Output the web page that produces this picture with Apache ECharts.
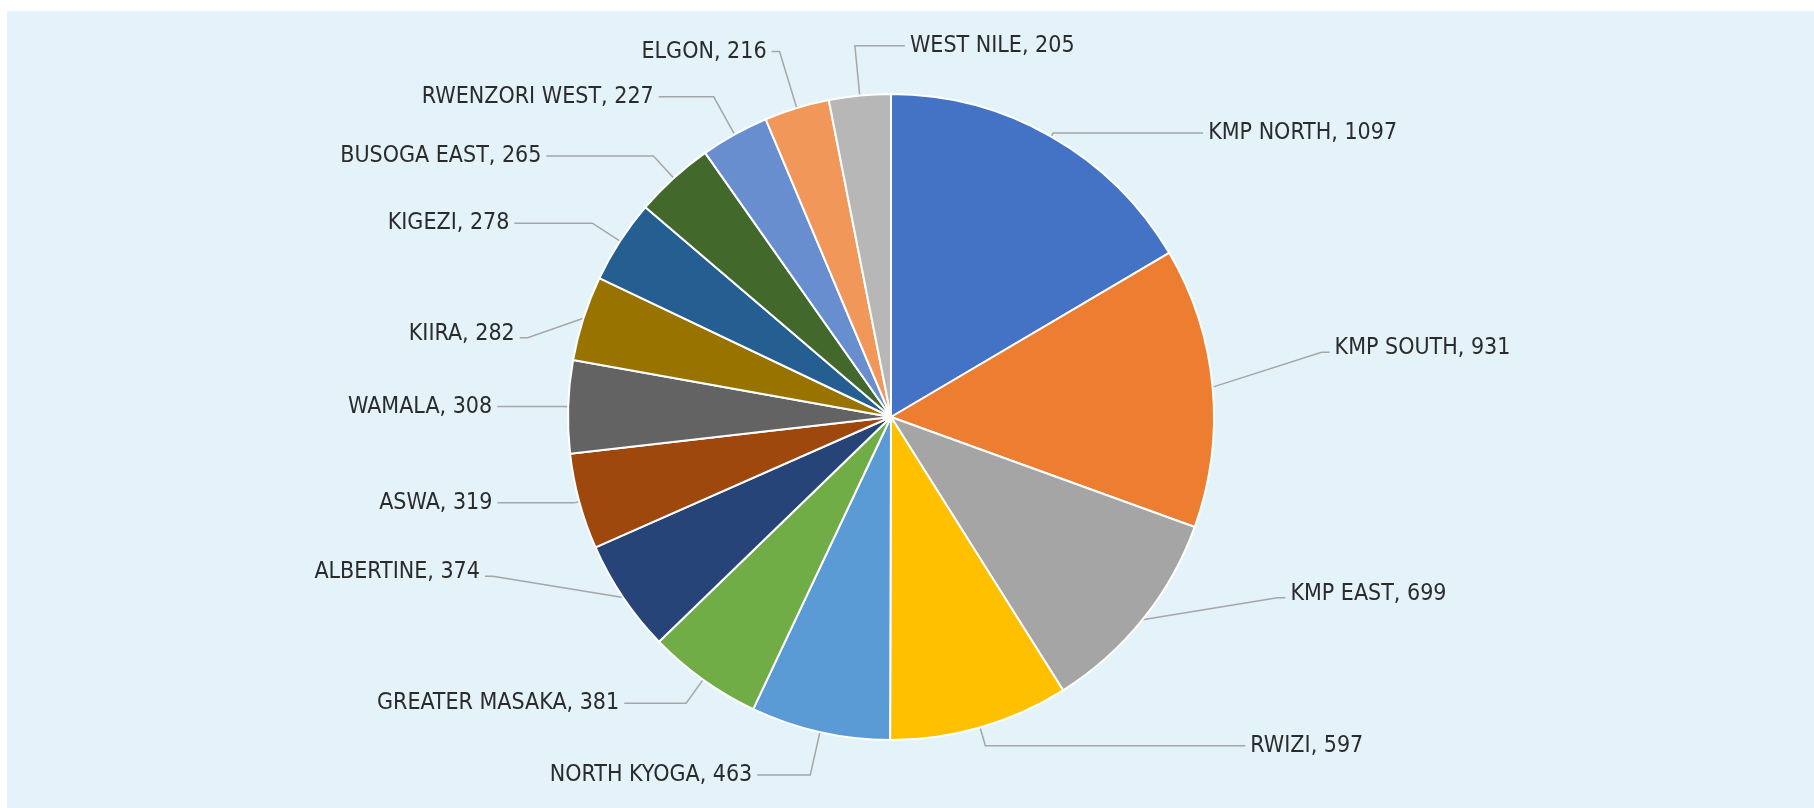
<!DOCTYPE html>
<html>
<head>
<meta charset="utf-8">
<script src="https://cdn.jsdelivr.net/npm/echarts@6/dist/echarts.min.js"></script>
<style>
html,body{margin:0;padding:0;background:#ffffff;}
#wrap{position:absolute;left:7px;top:11px;right:0;bottom:0;background:#e4f3f9;}
#chart{width:100%;height:100%;}
</style>
</head>
<body>
<div id="wrap"><div id="chart"></div></div>
<script>
const categories = ['KMP NORTH','KMP SOUTH','KMP EAST','RWIZI','NORTH KYOGA','GREATER MASAKA','ALBERTINE','ASWA','WAMALA','KIIRA','KIGEZI','BUSOGA EAST','RWENZORI WEST','ELGON','WEST NILE'];
const values = [1097,931,699,597,463,381,374,319,308,282,278,265,227,216,205];
const colors = ['#4472C4','#ED7D31','#A5A5A5','#FFC000','#5B9BD5','#70AD47','#264478','#9E480E','#636363','#997300','#255E91','#43682B','#698ED0','#F1975A','#B7B7B7'];
// leader-line styling per label (first radial segment, second horizontal segment, vertical nudge)
const leadLen1 = [4,10,5,19,44,29,5,5,5,5,33,30,43,59,50];
const leadLen2 = [150,107,139,260,53,62,134,77,66,59,78,107,55,8,50];
const leadShiftY = [0,-38,-29,0,0,0,-28,0,0,17,0,0,0,0,0];

const chart = echarts.init(document.getElementById('chart'));
chart.setOption({
  animation: false,
  series: [{
    type: 'pie',
    center: [884, 406],
    radius: 323,
    startAngle: 90,
    clockwise: true,
    avoidLabelOverlap: false,
    itemStyle: { borderColor: '#ffffff', borderWidth: 2 },
    label: {
      show: true,
      formatter: p => p.name + ', ' + p.value,
      fontFamily: 'DejaVu Sans Condensed',
      fontSize: 23,
      color: '#2b2b2b'
    },
    labelLine: {
      show: true,
      smooth: false,
      lineStyle: { color: '#a6a6a6', width: 1.5 }
    },
    labelLayout: function (p) {
      const i = p.dataIndex;
      const pts = p.labelLinePoints;
      if (!pts) return {};
      if (i === values.length - 1) {
        // last slice: label sits to the right of its leader line (mirrored)
        const p1 = pts[1];
        const p2 = [2 * p1[0] - pts[2][0], p1[1]];
        return { x: p2[0] + 5, y: p2[1], align: 'left', verticalAlign: 'middle', labelLinePoints: [pts[0], p1, p2] };
      }
      const s = leadShiftY[i];
      if (!s) return {};
      const end = pts[2];
      const dir = end[0] >= pts[0][0] ? 1 : -1;
      const y = end[1] + s;
      return {
        y: y,
        labelLinePoints: [pts[0], [end[0] - dir * 8, y + 4], [end[0], y + 4]]
      };
    },
    data: categories.map((c, i) => ({
      name: c, value: values[i],
      itemStyle: { color: colors[i] },
      labelLine: { length: leadLen1[i], length2: leadLen2[i] }
    }))
  }]
});
</script>
</body>
</html>
